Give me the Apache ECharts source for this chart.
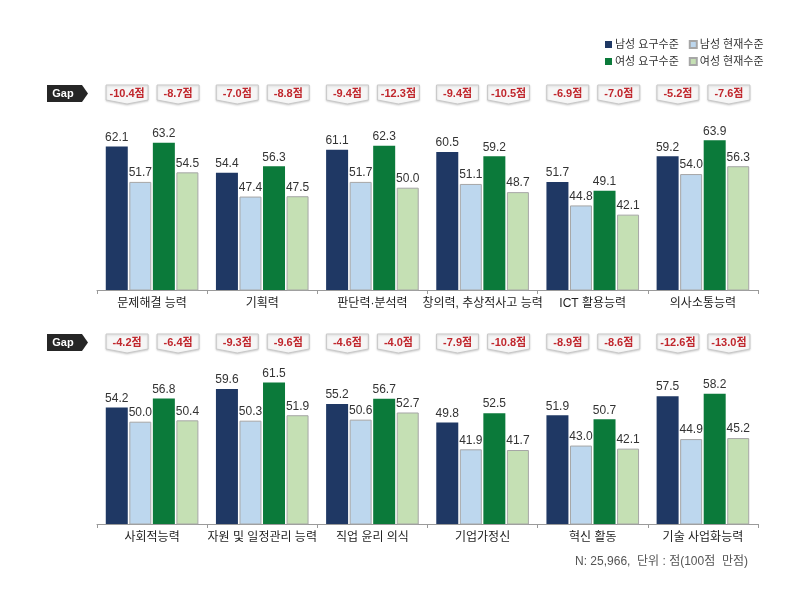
<!DOCTYPE html>
<html>
<head>
<meta charset="utf-8">
<title>역량 요구수준 vs 현재수준</title>
<script src="https://cdn.jsdelivr.net/npm/echarts@6/dist/echarts.min.js"></script>
<style>
  html, body { margin: 0; padding: 0; background: #fff; }
  #main { width: 812px; height: 609px; }
</style>
</head>
<body>
<div id="main"></div>
<script>
// 상단 / 하단 역량 항목
var cats1 = ['문제해결 능력', '기획력', '판단력·분석력', '창의력, 추상적사고 능력', 'ICT 활용능력', '의사소통능력'];
var cats2 = ['사회적능력', '자원 및 일정관리 능력', '직업 윤리 의식', '기업가정신', '혁신 활동', '기술 사업화능력'];

var seriesNames = ['남성 요구수준', '남성 현재수준', '여성 요구수준', '여성 현재수준'];

var maleReq1 = [62.1, 54.4, 61.1, 60.5, 51.7, 59.2];
var maleCur1 = [51.7, 47.4, 51.7, 51.1, 44.8, 54.0];
var femReq1  = [63.2, 56.3, 62.3, 59.2, 49.1, 63.9];
var femCur1  = [54.5, 47.5, 50.0, 48.7, 42.1, 56.3];

var maleReq2 = [54.2, 59.6, 55.2, 49.8, 51.9, 57.5];
var maleCur2 = [50.0, 50.3, 50.6, 41.9, 43.0, 44.9];
var femReq2  = [56.8, 61.5, 56.7, 52.5, 50.7, 58.2];
var femCur2  = [50.4, 51.9, 52.7, 41.7, 42.1, 45.2];

// Gap 라벨 (남성, 여성)
var maleGap1 = ['-10.4', '-7.0', '-9.4', '-9.4', '-6.9', '-5.2'];
var femGap1  = ['-8.7', '-8.8', '-12.3', '-10.5', '-7.0', '-7.6'];
var maleGap2 = ['-4.2', '-9.3', '-4.6', '-7.9', '-8.9', '-12.6'];
var femGap2  = ['-6.4', '-9.6', '-4.0', '-10.8', '-8.6', '-13.0'];

var colors = ['#1f3864', '#bdd7ee', '#0b7a3a', '#c5e0b4'];
var FONT = '"Liberation Sans", Arial, "Noto Sans CJK KR", sans-serif';

var myChart = echarts.init(document.getElementById('main'));

function barSeries(name, idx, data, gridIdx) {
    var light = (idx % 2 === 1);
    return {
        name: name,
        type: 'bar',
        xAxisIndex: gridIdx,
        yAxisIndex: gridIdx,
        data: data,
        barWidth: 22,
        barGap: '7%',
        itemStyle: {
            color: colors[idx],
            borderColor: light ? '#a6a6a6' : colors[idx],
            borderWidth: light ? 1 : 0
        },
        label: {
            show: true,
            position: 'top',
            distance: 3,
            color: '#333',
            fontSize: 12,
            fontFamily: FONT,
            formatter: function (p) { return p.value.toFixed(1); }
        },
        emphasis: { disabled: true }
    };
}

function gapSeries(gridIdx, mGap, fGap, top) {
    return {
        type: 'custom',
        xAxisIndex: gridIdx,
        yAxisIndex: gridIdx,
        silent: true,
        clip: false,
        data: mGap.map(function (g, i) { return [i, 20]; }),
        encode: { x: 0, y: 1 },
        renderItem: function (params, api) {
            var i = api.value(0);
            var cx = api.coord([i, 20])[0];
            var kids = [];
            [[-25, mGap[i]], [26, fGap[i]]].forEach(function (it) {
                var mx = cx + it[0];
                var x0 = mx - 21, x1 = mx + 21;
                kids.push({
                    type: 'polygon',
                    shape: { points: [[x0, top], [x1, top], [x1, top + 15], [mx, top + 19], [x0, top + 15]] },
                    style: { fill: '#f6f6f6', stroke: '#c8c8c8', lineWidth: 1,
                             shadowBlur: 2, shadowColor: 'rgba(0,0,0,0.15)', shadowOffsetY: 1 }
                });
                kids.push({
                    type: 'text',
                    style: {
                        x: mx, y: top + 8.5,
                        text: it[1] + '점',
                        fill: '#c0272d',
                        font: 'bold 11px ' + FONT,
                        align: 'center',
                        verticalAlign: 'middle'
                    }
                });
            });
            return { type: 'group', children: kids };
        }
    };
}

function gapTag(top) {
    return {
        type: 'group',
        children: [
            {
                type: 'polygon',
                shape: { points: [[47, top], [82, top], [88, top + 8.5], [82, top + 17], [47, top + 17]] },
                style: { fill: '#262626' }
            },
            {
                type: 'text',
                style: { x: 63, y: top + 9, text: 'Gap', fill: '#fff', font: 'bold 11px ' + FONT,
                         align: 'center', verticalAlign: 'middle' }
            }
        ]
    };
}

function xAxisOf(cats, gridIdx) {
    return {
        type: 'category',
        gridIndex: gridIdx,
        data: cats,
        axisLine: { lineStyle: { color: '#9a9a9a', width: 1 } },
        axisTick: { show: true, length: 4, lineStyle: { color: '#9a9a9a' } },
        axisLabel: { color: '#222', fontSize: 12, margin: 8, fontFamily: FONT, interval: 0 }
    };
}

function yAxisOf(gridIdx) {
    return { type: 'value', gridIndex: gridIdx, min: 20, max: 70, show: false, splitLine: { show: false } };
}

var legendCommon = {
    itemWidth: 7,
    itemHeight: 7,
    itemGap: 10,
    icon: 'rect',
    textStyle: { color: '#333', fontSize: 11, fontFamily: FONT, padding: [0, 0, 0, -2] }
};

option = {
    backgroundColor: '#fff',
    animation: false,
    textStyle: { fontFamily: FONT },
    legend: [
        Object.assign({ data: [seriesNames[0], seriesNames[1]], left: 600, top: 34 }, legendCommon),
        Object.assign({ data: [seriesNames[2], seriesNames[3]], left: 600, top: 51 }, legendCommon)
    ],
    grid: [
        { left: 97, right: 54, top: 119.5, height: 170.5 },
        { left: 97, right: 54, top: 353.5, height: 170.5 }
    ],
    xAxis: [xAxisOf(cats1, 0), xAxisOf(cats2, 1)],
    yAxis: [yAxisOf(0), yAxisOf(1)],
    graphic: [
        gapTag(85),
        gapTag(334),
        {
            type: 'text',
            right: 64,
            top: 556,
            style: { text: 'N: 25,966,  단위 : 점(100점  만점)', fill: '#555', font: '12px ' + FONT }
        }
    ],
    series: [
        barSeries(seriesNames[0], 0, maleReq1, 0),
        barSeries(seriesNames[1], 1, maleCur1, 0),
        barSeries(seriesNames[2], 2, femReq1, 0),
        barSeries(seriesNames[3], 3, femCur1, 0),
        barSeries(seriesNames[0], 0, maleReq2, 1),
        barSeries(seriesNames[1], 1, maleCur2, 1),
        barSeries(seriesNames[2], 2, femReq2, 1),
        barSeries(seriesNames[3], 3, femCur2, 1),
        gapSeries(0, maleGap1, femGap1, 85),
        gapSeries(1, maleGap2, femGap2, 334)
    ]
};

myChart.setOption(option);
</script>
</body>
</html>
